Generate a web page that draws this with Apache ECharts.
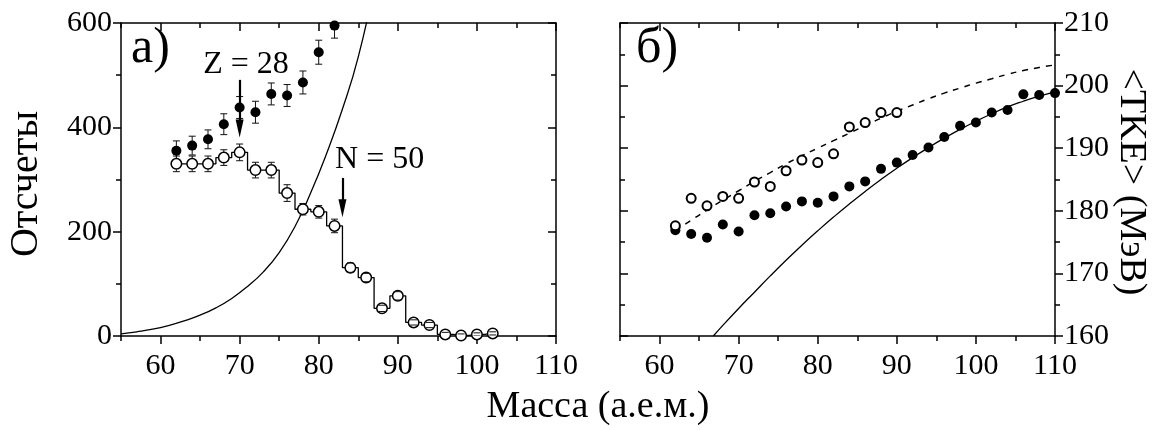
<!DOCTYPE html>
<html>
<head>
<meta charset="utf-8">
<script src="https://cdn.jsdelivr.net/npm/echarts@6/dist/echarts.min.js"></script>
<style>
  html, body { margin: 0; background: #fff; }
  #main { width: 1156px; height: 430px; }
</style>
</head>
<body>
<div id="main"></div>
<script>
  // panel a) counts
  const massFilledL = [62, 64, 66, 68, 70, 72, 74, 76, 78, 80, 82]
  const countsFilled = [355, 365, 377, 406, 438, 429, 464, 461, 486, 544, 595]
  const errFilled = [19, 18, 18, 20, 21, 21, 21, 21, 22, 23, 24]

  const massOpenL = [62, 64, 66, 68, 70, 72, 74, 76, 78, 80, 82, 84, 86, 88, 90, 92, 94, 96, 98, 100, 102]
  const countsOpen = [330, 330, 330, 342, 352, 318, 318, 274, 243, 238, 211, 131, 112, 53, 77, 26, 21, 3, 1, 3, 5]
  const errOpen = [15, 15, 15, 15, 16, 15, 15, 16, 11, 12, 13, 9, 8, 6, 8, 5, 5, 4, 3, 3, 3]

  const modelMassL = [55, 57, 59, 61, 63, 65, 67, 69, 71, 73, 75, 77, 79, 81, 83, 85, 87]
  const modelCounts = [4, 8, 13, 20, 29, 40, 54, 72, 95, 123, 160, 210, 275, 350, 435, 535, 670]

  // panel б) <TKE>
  const massFilledR = [62, 64, 66, 68, 70, 72, 74, 76, 78, 80, 82, 84, 86, 88, 90, 92, 94, 96, 98, 100, 102, 104, 106, 108, 110]
  const tkeFilled = [176.9, 176.3, 175.7, 177.8, 176.7, 179.3, 179.6, 180.7, 181.5, 181.3, 182.3, 183.9, 184.7, 186.7, 187.7, 188.9, 190.1, 191.8, 193.6, 194.1, 195.7, 196.1, 198.6, 198.5, 198.8]

  const massOpenR = [62, 64, 66, 68, 70, 72, 74, 76, 78, 80, 82, 84, 86, 88, 90]
  const tkeOpen = [177.6, 182.0, 180.8, 182.3, 182.0, 184.6, 183.9, 186.4, 188.1, 187.7, 189.1, 193.4, 194.1, 195.7, 195.7]

  const massDashR = [62, 64, 66, 68, 70, 72, 74, 76, 78, 80, 82, 84, 86, 88, 90, 92, 94, 96, 98, 100, 102, 104, 106, 108, 110]
  const tkeDash = [176.8, 178.5, 180.1, 181.7, 183.2, 184.7, 186.1, 187.5, 188.8, 190.0, 191.2, 192.4, 193.6, 194.8, 195.9, 196.9, 197.9, 198.8, 199.6, 200.4, 201.1, 201.8, 202.4, 202.9, 203.3]

  const massSolidR = [66.8, 68, 70, 72, 74, 76, 78, 80, 82, 84, 86, 88, 90, 92, 94, 96, 98, 100, 102, 104, 106, 108, 110]
  const tkeSolid = [160, 161.7, 164.4, 167.0, 169.6, 172.1, 174.5, 176.8, 179.0, 181.1, 183.1, 185.0, 186.8, 188.5, 190.1, 191.6, 193.0, 194.3, 195.5, 196.6, 197.5, 198.3, 199.0]

  // ticks
  const xMajor = [60, 70, 80, 90, 100, 110]
  const xMinor = [55, 65, 75, 85, 95, 105]

  // annotations (arrow start, arrow end, label position)
  const arrowZ = [[70, 491], [70, 398]]
  const arrowN = [[83, 303], [83, 245]]
  const labelZ = [70.8, 520]
  const labelN = [87.7, 339]

  const serif = '"Liberation Serif", "DejaVu Serif", serif'
  const black = { color: '#000', width: 1.5 }
  const zip = (a, b, c) => a.map((v, i) => (c ? [v, b[i], c[i]] : [v, b[i]]))

  function xAxes(gridIndex, labels) {
    const base = { type: 'value', min: 55, max: 110, gridIndex, splitLine: { show: false } }
    return [
      {
        ...base,
        position: 'bottom',
        axisLine: { onZero: false, lineStyle: black },
        axisTick: { customValues: xMajor, length: 8, lineStyle: black },
        axisLabel: { show: labels, customValues: xMajor, margin: 15, color: '#000', fontFamily: serif, fontSize: 30 }
      },
      {
        ...base,
        position: 'bottom',
        axisLine: { show: false, onZero: false },
        axisTick: { customValues: xMinor, length: 5, lineStyle: black },
        axisLabel: { show: false }
      },
      {
        ...base,
        position: 'top',
        axisLine: { onZero: false, lineStyle: black },
        axisTick: { customValues: xMajor, inside: true, length: 8, lineStyle: black },
        axisLabel: { show: false }
      },
      {
        ...base,
        position: 'top',
        axisLine: { show: false, onZero: false },
        axisTick: { customValues: xMinor, inside: true, length: 5, lineStyle: black },
        axisLabel: { show: false }
      }
    ]
  }

  function yAxis(gridIndex, position, labels, inside, min, max, interval) {
    return {
      type: 'value',
      gridIndex,
      position,
      min,
      max,
      interval,
      splitLine: { show: false },
      axisLine: { show: true, onZero: false, lineStyle: black },
      axisTick: { show: true, inside, length: 8, lineStyle: black },
      minorTick: { show: true, splitNumber: 2, length: 5, lineStyle: { color: '#000', width: 1.5 } },
      axisLabel: { show: labels, margin: 9, color: '#000', fontFamily: serif, fontSize: 30 }
    }
  }

  function errorBars(radius) {
    return function (params, api) {
      const x = api.value(0)
      const y = api.value(1)
      const e = api.value(2)
      const c = api.coord([x, y])
      const hi = api.coord([x, y + e])
      const lo = api.coord([x, y - e])
      const w = 3.5
      const style = { stroke: '#111', lineWidth: 1 }
      const children = []
      if (hi[1] < c[1] - radius) {
        children.push({ type: 'line', shape: { x1: c[0], y1: c[1] - radius, x2: c[0], y2: hi[1] }, style })
      }
      if (lo[1] > c[1] + radius) {
        children.push({ type: 'line', shape: { x1: c[0], y1: c[1] + radius, x2: c[0], y2: lo[1] }, style })
      }
      children.push({ type: 'line', shape: { x1: c[0] - w, y1: hi[1], x2: c[0] + w, y2: hi[1] }, style })
      children.push({ type: 'line', shape: { x1: c[0] - w, y1: lo[1], x2: c[0] + w, y2: lo[1] }, style })
      return { type: 'group', children }
    }
  }

  const arrowHead = 'path://M4,0 L8,18 L0,18 Z'
  const smoothLine = { smooth: 0.5, showSymbol: false, z: 2 }

  const chart = echarts.init(document.getElementById('main'))
  const option = {
    animation: false,
    backgroundColor: '#fff',
    grid: [
      { left: 121, right: 600, top: 23, bottom: 94, outerBoundsMode: 'none' },
      { left: 620, right: 101, top: 23, bottom: 94, outerBoundsMode: 'none' }
    ],
    xAxis: [...xAxes(0, true), ...xAxes(1, true)],
    yAxis: [
      yAxis(0, 'left', true, false, 0, 600, 200),
      yAxis(0, 'right', false, true, 0, 600, 200),
      yAxis(1, 'left', false, true, 160, 210, 10),
      yAxis(1, 'right', true, false, 160, 210, 10)
    ],
    graphic: [
      { type: 'text', left: 131, top: 24, style: { text: 'а)', font: '50px ' + serif, fill: '#000' } },
      { type: 'text', left: 636, top: 24, style: { text: 'б)', font: '50px ' + serif, fill: '#000' } },
      {
        type: 'text', x: 26, y: 184, rotation: Math.PI / 2,
        style: { text: 'Отсчеты', font: '40px ' + serif, fill: '#000', align: 'center', verticalAlign: 'middle', textAlign: 'center', textVerticalAlign: 'middle' }
      },
      {
        type: 'text', x: 1131, y: 182, rotation: -Math.PI / 2,
        style: { text: '<TKE> (МэВ)', font: '38px ' + serif, fill: '#000', align: 'center', verticalAlign: 'middle', textAlign: 'center', textVerticalAlign: 'middle' }
      },
      {
        type: 'text', x: 598, y: 407,
        style: { text: 'Масса (а.е.м.)', font: '38px ' + serif, fill: '#000', align: 'center', verticalAlign: 'middle', textAlign: 'center', textVerticalAlign: 'middle' }
      }
    ],
    series: [
      {
        type: 'line',
        xAxisIndex: 0,
        yAxisIndex: 0,
        data: zip(modelMassL, modelCounts),
        ...smoothLine,
        lineStyle: { color: '#000', width: 1.3 }
      },
      {
        type: 'line',
        xAxisIndex: 0,
        yAxisIndex: 0,
        step: 'middle',
        data: zip(massOpenL, countsOpen),
        showSymbol: false,
        lineStyle: { color: '#000', width: 1.3 },
        z: 2,
        markLine: {
          silent: true,
          animation: false,
          lineStyle: { color: '#000', width: 2.2, type: 'solid' },
          label: { show: false },
          data: [
            [{ coord: arrowZ[0], symbol: 'none' }, { coord: arrowZ[1], symbol: arrowHead, symbolSize: [8, 18] }],
            [{ coord: arrowN[0], symbol: 'none' }, { coord: arrowN[1], symbol: arrowHead, symbolSize: [8, 18] }]
          ]
        },
        markPoint: {
          silent: true,
          symbol: 'circle',
          symbolSize: 0,
          label: { show: true, position: 'inside', formatter: '{b}', color: '#000', fontFamily: serif, fontSize: 32 },
          data: [
            { name: 'Z = 28', coord: labelZ },
            { name: 'N = 50', coord: labelN }
          ]
        }
      },
      {
        type: 'custom',
        xAxisIndex: 0,
        yAxisIndex: 0,
        clip: true,
        renderItem: errorBars(0),
        encode: { x: 0, y: 1 },
        data: zip(massFilledL, countsFilled, errFilled),
        z: 3
      },
      {
        type: 'scatter',
        xAxisIndex: 0,
        yAxisIndex: 0,
        data: zip(massFilledL, countsFilled),
        symbolSize: 10,
        itemStyle: { color: '#000', opacity: 1 },
        z: 4
      },
      {
        type: 'scatter',
        xAxisIndex: 0,
        yAxisIndex: 0,
        data: zip(massOpenL, countsOpen),
        symbolSize: 10.5,
        itemStyle: { color: '#fff', borderColor: '#000', borderWidth: 1.5, opacity: 1 },
        z: 3
      },
      {
        type: 'custom',
        xAxisIndex: 0,
        yAxisIndex: 0,
        clip: true,
        renderItem: errorBars(5.5),
        encode: { x: 0, y: 1 },
        data: zip(massOpenL, countsOpen, errOpen),
        z: 4
      },
      // panel б)
      {
        type: 'line',
        xAxisIndex: 4,
        yAxisIndex: 3,
        data: zip(massSolidR, tkeSolid),
        ...smoothLine,
        lineStyle: { color: '#000', width: 1.3 }
      },
      {
        type: 'line',
        xAxisIndex: 4,
        yAxisIndex: 3,
        data: zip(massDashR, tkeDash),
        ...smoothLine,
        lineStyle: { color: '#000', width: 1.5, type: [6, 6] }
      },
      {
        type: 'scatter',
        xAxisIndex: 4,
        yAxisIndex: 3,
        data: zip(massFilledR, tkeFilled),
        symbolSize: 10,
        itemStyle: { color: '#000', opacity: 1 },
        z: 3
      },
      {
        type: 'scatter',
        xAxisIndex: 4,
        yAxisIndex: 3,
        data: zip(massOpenR, tkeOpen),
        symbolSize: 9,
        itemStyle: { color: '#fff', borderColor: '#000', borderWidth: 2, opacity: 1 },
        z: 4
      }
    ]
  }
  chart.setOption(option)
</script>
</body>
</html>
